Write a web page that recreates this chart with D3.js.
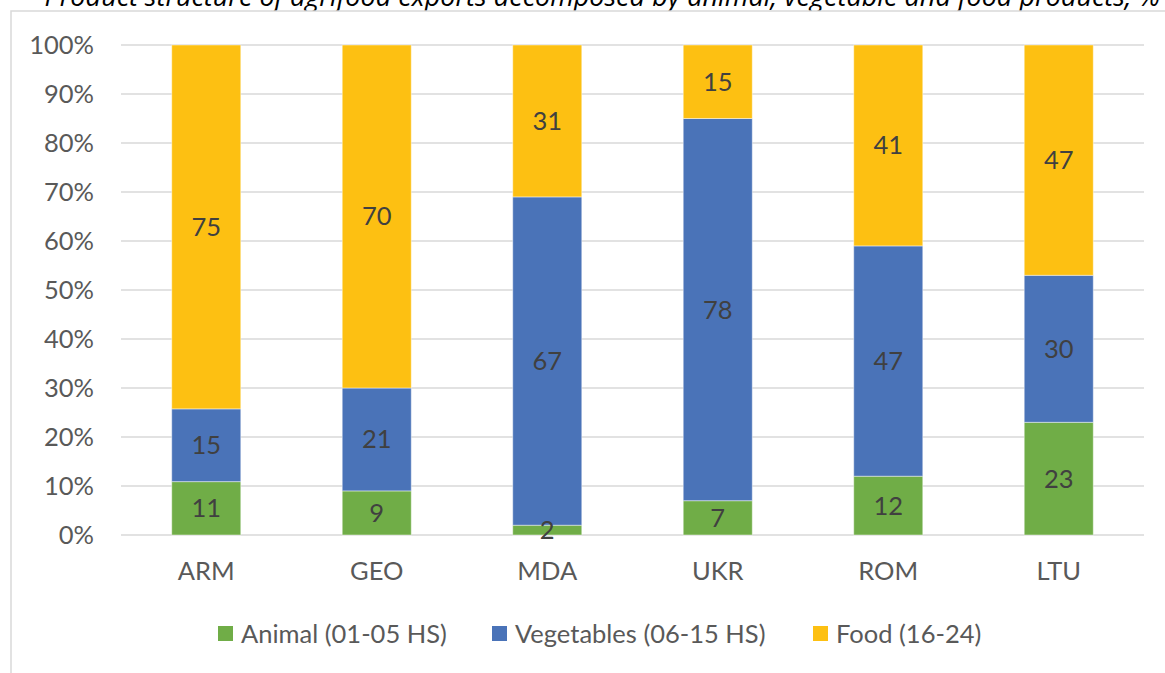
<!DOCTYPE html>
<html><head><meta charset="utf-8">
<script src="https://cdn.jsdelivr.net/npm/d3@7"></script>
<style>html,body{margin:0;padding:0;background:#fff;overflow:hidden}</style>
</head><body>
<svg id="c" width="1165" height="673"></svg>
<script>
const title = "Product structure of agrifood exports decomposed by animal, vegetable and food products, %";
const categories = ["ARM","GEO","MDA","UKR","ROM","LTU"];
const seriesNames = ["Animal (01-05 HS)","Vegetables (06-15 HS)","Food (16-24)"];
const animal = [11, 9, 2, 7, 12, 23];
const vegetables = [15, 21, 67, 78, 47, 30];
const food = [75, 70, 31, 15, 41, 47];
const yTicks = [0,0.1,0.2,0.3,0.4,0.5,0.6,0.7,0.8,0.9,1];
const colors = ["#70AD47","#4A73B8","#FDC012"];

(function(){
const svg = d3.select("#c");
const FONT = "Lato, 'Open Sans', sans-serif";
const FS = 25.5;
const textCol = "#595959";

// title (cropped at top, as in the source image)
svg.append("text").attr("x", 1160).attr("y", 6).attr("text-anchor","end")
  .attr("font-family", "'Open Sans', sans-serif")
  .attr("font-style","italic").attr("font-size", 27).attr("fill","#000").text(title);

// frame
svg.append("rect").attr("x", 11).attr("y", 11).attr("width", 1200).attr("height", 700)
  .attr("fill","#fff").attr("stroke","#D9D9D9").attr("stroke-width",1.5);

const pL = 121, pR = 1144, pT = 45, pB = 535;
const x = d3.scaleBand().domain(categories).range([pL, pR]).paddingInner(0.595).paddingOuter(0.2975);
const y = d3.scaleLinear().domain([0,1]).range([pB, pT]);

const rows = categories.map((c,i)=>({cat:c, a:animal[i], v:vegetables[i], f:food[i]}));
const keys = ["a","v","f"];
const stack = d3.stack().keys(keys).offset(d3.stackOffsetExpand);
const layers = stack(rows);

// gridlines
svg.append("g").selectAll("line").data(yTicks).join("line")
  .attr("x1", pL).attr("x2", pR).attr("y1", d=>y(d)).attr("y2", d=>y(d))
  .attr("stroke","#D9D9D9").attr("stroke-width",1.5);

// y axis labels
const yAxis = d3.axisLeft(y).tickValues(yTicks).tickFormat(d3.format(".0%")).tickSize(0).tickPadding(0);
const ga = svg.append("g").attr("transform", `translate(${pL-27},0)`).call(yAxis);
ga.select(".domain").remove();
ga.selectAll("text").attr("font-family",FONT).attr("font-size",FS).attr("fill",textCol).attr("dy","0.35em");

// bars
const g = svg.append("g");
layers.forEach((layer,li)=>{
  g.append("g").selectAll("rect").data(layer).join("rect")
    .attr("x", d=>x(d.data.cat)).attr("width", x.bandwidth())
    .attr("y", d=>y(d[1])).attr("height", d=>y(d[0])-y(d[1]))
    .attr("fill", colors[li]).attr("stroke","#fff").attr("stroke-opacity",0.45).attr("stroke-width",1);
});
layers.forEach((layer,li)=>{
  g.append("g").selectAll("text").data(layer).join("text")
    .attr("x", d=>x(d.data.cat)+x.bandwidth()/2)
    .attr("y", d=>(y(d[0])+y(d[1]))/2)
    .attr("dy","0.35em").attr("text-anchor","middle")
    .attr("font-family",FONT).attr("font-size",FS).attr("fill","#404040")
    .text(d=>d.data[keys[li]]);
});

// x axis labels
const xAxis = d3.axisBottom(x).tickSize(0).tickPadding(0);
const gx = svg.append("g").attr("transform",`translate(0,${pB+45})`).call(xAxis);
gx.select(".domain").remove();
gx.selectAll("text").attr("font-family",FONT).attr("font-size",FS).attr("fill",textCol).attr("dy","0");

// legend
const legX = [218, 492, 813];
const lg = svg.append("g");
seriesNames.forEach((n,i)=>{
  lg.append("rect").attr("x", legX[i]).attr("y", 626).attr("width",15).attr("height",15).attr("fill",colors[i]);
  lg.append("text").attr("x", legX[i]+23).attr("y", 634).attr("dy","0.35em")
    .attr("font-family",FONT).attr("font-size",FS).attr("fill",textCol).text(n);
});
})();
</script>
</body></html>
